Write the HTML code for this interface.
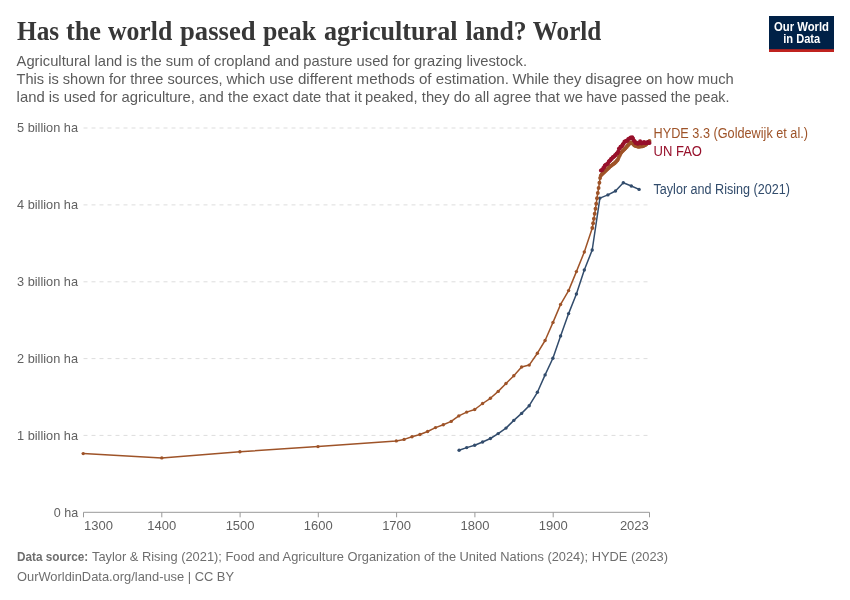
<!DOCTYPE html>
<html><head><meta charset="utf-8"><title>Has the world passed peak agricultural land?</title>
<style>
html,body{margin:0;padding:0;background:#fff;}
svg{display:block;will-change:transform;transform:translateZ(0);}
text{font-family:"Liberation Sans",sans-serif;}
.ax{font-size:13px;fill:#616161;}
.lb{font-size:13.8px;}
.ti{font-family:"Liberation Serif",serif;font-weight:bold;font-size:26.7px;fill:#373737;}
.su{font-size:14.6px;fill:#5b5b5b;}
.ft{font-size:13px;fill:#6e6e6e;}
.lg{font-size:12px;font-weight:bold;fill:#fff;}
</style></head><body>
<svg width="850" height="600" viewBox="0 0 850 600">
<rect width="850" height="600" fill="#fff"/>
<line x1="83.5" x2="649.5" y1="435.4" y2="435.4" stroke="#dddddd" stroke-width="1" stroke-dasharray="4,4"/>
<line x1="83.5" x2="649.5" y1="358.6" y2="358.6" stroke="#dddddd" stroke-width="1" stroke-dasharray="4,4"/>
<line x1="83.5" x2="649.5" y1="281.8" y2="281.8" stroke="#dddddd" stroke-width="1" stroke-dasharray="4,4"/>
<line x1="83.5" x2="649.5" y1="204.9" y2="204.9" stroke="#dddddd" stroke-width="1" stroke-dasharray="4,4"/>
<line x1="83.5" x2="649.5" y1="128.0" y2="128.0" stroke="#dddddd" stroke-width="1" stroke-dasharray="4,4"/>
<line x1="83.5" x2="649.5" y1="512.3" y2="512.3" stroke="#999999" stroke-width="1"/>
<line x1="83.5" x2="83.5" y1="512.3" y2="517.3" stroke="#999999" stroke-width="1"/>
<line x1="161.8" x2="161.8" y1="512.3" y2="517.3" stroke="#999999" stroke-width="1"/>
<line x1="240.1" x2="240.1" y1="512.3" y2="517.3" stroke="#999999" stroke-width="1"/>
<line x1="318.3" x2="318.3" y1="512.3" y2="517.3" stroke="#999999" stroke-width="1"/>
<line x1="396.6" x2="396.6" y1="512.3" y2="517.3" stroke="#999999" stroke-width="1"/>
<line x1="474.9" x2="474.9" y1="512.3" y2="517.3" stroke="#999999" stroke-width="1"/>
<line x1="553.2" x2="553.2" y1="512.3" y2="517.3" stroke="#999999" stroke-width="1"/>
<line x1="649.5" x2="649.5" y1="512.3" y2="517.3" stroke="#999999" stroke-width="1"/>
<text id="y0" x="53.8" y="516.7" class="ax" textLength="24.4" lengthAdjust="spacingAndGlyphs">0 ha</text>
<text id="y1" x="17" y="439.8" class="ax" textLength="61" lengthAdjust="spacingAndGlyphs">1 billion ha</text>
<text id="y2" x="17" y="363.0" class="ax" textLength="61" lengthAdjust="spacingAndGlyphs">2 billion ha</text>
<text id="y3" x="17" y="286.1" class="ax" textLength="61" lengthAdjust="spacingAndGlyphs">3 billion ha</text>
<text id="y4" x="17" y="209.3" class="ax" textLength="61" lengthAdjust="spacingAndGlyphs">4 billion ha</text>
<text id="y5" x="17" y="132.4" class="ax" textLength="61" lengthAdjust="spacingAndGlyphs">5 billion ha</text>
<text id="x1400" x="161.8" y="530.3" text-anchor="middle" class="ax">1400</text>
<text id="x1500" x="240.1" y="530.3" text-anchor="middle" class="ax">1500</text>
<text id="x1600" x="318.3" y="530.3" text-anchor="middle" class="ax">1600</text>
<text id="x1700" x="396.6" y="530.3" text-anchor="middle" class="ax">1700</text>
<text id="x1800" x="474.9" y="530.3" text-anchor="middle" class="ax">1800</text>
<text id="x1900" x="553.2" y="530.3" text-anchor="middle" class="ax">1900</text>
<text id="x1300" x="84" y="530.3" class="ax">1300</text>
<text id="x2023" x="648.8" y="530.3" text-anchor="end" class="ax">2023</text>
<path d="M459.1,450.2 L466.7,447.6 L474.7,445.3 L482.6,442.0 L490.4,438.5 L498.2,433.6 L506.0,428.1 L513.8,420.4 L521.6,413.4 L529.2,405.7 L537.4,392.3 L545.1,374.9 L552.9,358.3 L560.6,336.0 L568.6,313.6 L576.4,294.0 L584.3,270.0 L592.2,250.0 L599.9,198.1 L607.9,194.9 L615.5,191.0 L623.3,182.8 L631.3,186.0 L639.1,189.4" fill="none" stroke="#324C6C" stroke-width="1.5" stroke-linejoin="round" stroke-linecap="round"/>
<g fill="#324C6C"><circle cx="459.1" cy="450.2" r="1.7"/><circle cx="466.7" cy="447.6" r="1.7"/><circle cx="474.7" cy="445.3" r="1.7"/><circle cx="482.6" cy="442.0" r="1.7"/><circle cx="490.4" cy="438.5" r="1.7"/><circle cx="498.2" cy="433.6" r="1.7"/><circle cx="506.0" cy="428.1" r="1.7"/><circle cx="513.8" cy="420.4" r="1.7"/><circle cx="521.6" cy="413.4" r="1.7"/><circle cx="529.2" cy="405.7" r="1.7"/><circle cx="537.4" cy="392.3" r="1.7"/><circle cx="545.1" cy="374.9" r="1.7"/><circle cx="552.9" cy="358.3" r="1.7"/><circle cx="560.6" cy="336.0" r="1.7"/><circle cx="568.6" cy="313.6" r="1.7"/><circle cx="576.4" cy="294.0" r="1.7"/><circle cx="584.3" cy="270.0" r="1.7"/><circle cx="592.2" cy="250.0" r="1.7"/><circle cx="599.9" cy="198.1" r="1.7"/><circle cx="607.9" cy="194.9" r="1.7"/><circle cx="615.5" cy="191.0" r="1.7"/><circle cx="623.3" cy="182.8" r="1.7"/><circle cx="631.3" cy="186.0" r="1.7"/><circle cx="639.1" cy="189.4" r="1.7"/></g>

<path d="M83.2,453.6 L161.8,457.9 L239.9,451.8 L318.0,446.6 L396.3,440.9 L404.1,439.4 L412.0,436.7 L419.9,434.5 L427.6,431.5 L435.5,427.6 L443.3,424.7 L451.2,421.4 L458.8,415.9 L466.7,412.1 L474.7,409.5 L482.6,403.5 L490.4,398.3 L498.2,391.4 L506.0,383.5 L513.8,375.8 L521.6,367.0 L529.2,365.1 L537.4,353.2 L545.1,340.5 L553.0,322.4 L560.6,304.4 L568.6,290.6 L576.4,271.6 L584.3,252.0 L592.3,228.0 L593.1,223.3 L593.9,218.7 L594.7,213.8 L595.5,208.7 L596.2,203.7 L597.0,198.3 L597.8,193.0 L598.6,188.0 L599.4,182.8 L600.1,178.0 L600.9,175.4 L601.7,174.4 L602.5,173.7 L603.3,172.9 L604.1,172.2 L604.8,171.5 L605.6,170.7 L606.4,170.0 L607.2,169.2 L608.0,168.5 L608.8,167.7 L609.5,167.0 L610.3,166.3 L611.1,165.7 L611.9,165.1 L612.7,164.5 L613.5,163.9 L614.2,163.4 L615.0,162.7 L615.8,161.9 L616.6,161.0 L617.4,160.2 L618.2,158.8 L618.9,157.1 L619.7,155.4 L620.5,153.7 L621.3,152.4 L622.1,151.6 L622.8,150.8 L623.6,150.0 L624.4,149.2 L625.2,148.4 L626.0,147.5 L626.8,146.7 L627.5,145.8 L628.3,145.0 L629.1,144.1 L629.9,143.2 L630.7,142.4 L631.5,142.5 L632.2,143.2 L633.0,143.8 L633.8,144.8 L634.6,145.5 L635.4,145.8 L636.2,146.1 L636.9,146.3 L637.7,146.6 L638.5,146.7 L639.3,146.6 L640.1,146.5 L640.9,146.4 L641.6,146.4 L642.4,146.3 L643.2,146.1 L644.0,145.6 L644.8,145.2 L645.6,144.7 L646.3,144.2 L647.1,143.4 L647.9,142.6 L648.7,141.8 L649.5,141.0" fill="none" stroke="#9E5328" stroke-width="1.5" stroke-linejoin="round" stroke-linecap="round"/>
<g fill="#9E5328"><circle cx="83.2" cy="453.6" r="1.7"/><circle cx="161.8" cy="457.9" r="1.7"/><circle cx="239.9" cy="451.8" r="1.7"/><circle cx="318.0" cy="446.6" r="1.7"/><circle cx="396.3" cy="440.9" r="1.7"/><circle cx="404.1" cy="439.4" r="1.7"/><circle cx="412.0" cy="436.7" r="1.7"/><circle cx="419.9" cy="434.5" r="1.7"/><circle cx="427.6" cy="431.5" r="1.7"/><circle cx="435.5" cy="427.6" r="1.7"/><circle cx="443.3" cy="424.7" r="1.7"/><circle cx="451.2" cy="421.4" r="1.7"/><circle cx="458.8" cy="415.9" r="1.7"/><circle cx="466.7" cy="412.1" r="1.7"/><circle cx="474.7" cy="409.5" r="1.7"/><circle cx="482.6" cy="403.5" r="1.7"/><circle cx="490.4" cy="398.3" r="1.7"/><circle cx="498.2" cy="391.4" r="1.7"/><circle cx="506.0" cy="383.5" r="1.7"/><circle cx="513.8" cy="375.8" r="1.7"/><circle cx="521.6" cy="367.0" r="1.7"/><circle cx="529.2" cy="365.1" r="1.7"/><circle cx="537.4" cy="353.2" r="1.7"/><circle cx="545.1" cy="340.5" r="1.7"/><circle cx="553.0" cy="322.4" r="1.7"/><circle cx="560.6" cy="304.4" r="1.7"/><circle cx="568.6" cy="290.6" r="1.7"/><circle cx="576.4" cy="271.6" r="1.7"/><circle cx="584.3" cy="252.0" r="1.7"/><circle cx="592.3" cy="228.0" r="1.95"/><circle cx="593.1" cy="223.3" r="1.95"/><circle cx="593.9" cy="218.7" r="1.95"/><circle cx="594.7" cy="213.8" r="1.95"/><circle cx="595.5" cy="208.7" r="1.95"/><circle cx="596.2" cy="203.7" r="1.95"/><circle cx="597.0" cy="198.3" r="1.95"/><circle cx="597.8" cy="193.0" r="1.95"/><circle cx="598.6" cy="188.0" r="1.95"/><circle cx="599.4" cy="182.8" r="1.95"/><circle cx="600.1" cy="178.0" r="1.95"/><circle cx="600.9" cy="175.4" r="1.95"/><circle cx="601.7" cy="174.4" r="1.95"/><circle cx="602.5" cy="173.7" r="1.95"/><circle cx="603.3" cy="172.9" r="1.95"/><circle cx="604.1" cy="172.2" r="1.95"/><circle cx="604.8" cy="171.5" r="1.95"/><circle cx="605.6" cy="170.7" r="1.95"/><circle cx="606.4" cy="170.0" r="1.95"/><circle cx="607.2" cy="169.2" r="1.95"/><circle cx="608.0" cy="168.5" r="1.95"/><circle cx="608.8" cy="167.7" r="1.95"/><circle cx="609.5" cy="167.0" r="1.95"/><circle cx="610.3" cy="166.3" r="1.95"/><circle cx="611.1" cy="165.7" r="1.95"/><circle cx="611.9" cy="165.1" r="1.95"/><circle cx="612.7" cy="164.5" r="1.95"/><circle cx="613.5" cy="163.9" r="1.95"/><circle cx="614.2" cy="163.4" r="1.95"/><circle cx="615.0" cy="162.7" r="1.95"/><circle cx="615.8" cy="161.9" r="1.95"/><circle cx="616.6" cy="161.0" r="1.95"/><circle cx="617.4" cy="160.2" r="1.95"/><circle cx="618.2" cy="158.8" r="1.95"/><circle cx="618.9" cy="157.1" r="1.95"/><circle cx="619.7" cy="155.4" r="1.95"/><circle cx="620.5" cy="153.7" r="1.95"/><circle cx="621.3" cy="152.4" r="1.95"/><circle cx="622.1" cy="151.6" r="1.95"/><circle cx="622.8" cy="150.8" r="1.95"/><circle cx="623.6" cy="150.0" r="1.95"/><circle cx="624.4" cy="149.2" r="1.95"/><circle cx="625.2" cy="148.4" r="1.95"/><circle cx="626.0" cy="147.5" r="1.95"/><circle cx="626.8" cy="146.7" r="1.95"/><circle cx="627.5" cy="145.8" r="1.95"/><circle cx="628.3" cy="145.0" r="1.95"/><circle cx="629.1" cy="144.1" r="1.95"/><circle cx="629.9" cy="143.2" r="1.95"/><circle cx="630.7" cy="142.4" r="1.95"/><circle cx="631.5" cy="142.5" r="1.95"/><circle cx="632.2" cy="143.2" r="1.95"/><circle cx="633.0" cy="143.8" r="1.95"/><circle cx="633.8" cy="144.8" r="1.95"/><circle cx="634.6" cy="145.5" r="1.95"/><circle cx="635.4" cy="145.8" r="1.95"/><circle cx="636.2" cy="146.1" r="1.95"/><circle cx="636.9" cy="146.3" r="1.95"/><circle cx="637.7" cy="146.6" r="1.95"/><circle cx="638.5" cy="146.7" r="1.95"/><circle cx="639.3" cy="146.6" r="1.95"/><circle cx="640.1" cy="146.5" r="1.95"/><circle cx="640.9" cy="146.4" r="1.95"/><circle cx="641.6" cy="146.4" r="1.95"/><circle cx="642.4" cy="146.3" r="1.95"/><circle cx="643.2" cy="146.1" r="1.95"/><circle cx="644.0" cy="145.6" r="1.95"/><circle cx="644.8" cy="145.2" r="1.95"/><circle cx="645.6" cy="144.7" r="1.95"/><circle cx="646.3" cy="144.2" r="1.95"/><circle cx="647.1" cy="143.4" r="1.95"/><circle cx="647.9" cy="142.6" r="1.95"/><circle cx="648.7" cy="141.8" r="1.95"/><circle cx="649.5" cy="141.0" r="1.95"/></g>

<path d="M600.9,170.4 L601.7,170.2 L602.5,169.7 L603.3,168.0 L604.1,167.5 L604.8,165.6 L605.6,164.9 L606.4,164.5 L607.2,163.9 L608.0,163.5 L608.8,161.6 L609.5,161.0 L610.3,160.2 L611.1,158.8 L611.9,158.7 L612.7,157.2 L613.5,157.0 L614.2,156.6 L615.0,155.2 L615.8,155.0 L616.6,153.5 L617.4,153.2 L618.2,151.6 L618.9,148.7 L619.7,148.5 L620.5,146.8 L621.3,146.5 L622.1,145.9 L622.8,144.2 L623.6,143.7 L624.4,141.8 L625.2,141.3 L626.0,141.4 L626.8,140.4 L627.5,140.8 L628.3,139.1 L629.1,138.7 L629.9,138.3 L630.7,137.5 L631.5,138.1 L632.2,137.3 L633.0,138.6 L633.8,140.4 L634.6,141.2 L635.4,142.9 L636.2,142.4 L636.9,143.2 L637.7,143.8 L638.5,143.3 L639.3,143.3 L640.1,141.3 L640.9,142.5 L641.6,143.6 L642.4,142.7 L643.2,143.1 L644.0,142.1 L644.8,142.8 L645.6,143.2 L646.3,142.5 L647.1,142.9 L647.9,141.9 L648.7,142.6 L649.5,143.0" fill="none" stroke="#97102B" stroke-width="1.5" stroke-linejoin="round" stroke-linecap="round"/>
<g fill="#97102B"><circle cx="600.9" cy="170.4" r="2.0"/><circle cx="601.7" cy="170.2" r="2.0"/><circle cx="602.5" cy="169.7" r="2.0"/><circle cx="603.3" cy="168.0" r="2.0"/><circle cx="604.1" cy="167.5" r="2.0"/><circle cx="604.8" cy="165.6" r="2.0"/><circle cx="605.6" cy="164.9" r="2.0"/><circle cx="606.4" cy="164.5" r="2.0"/><circle cx="607.2" cy="163.9" r="2.0"/><circle cx="608.0" cy="163.5" r="2.0"/><circle cx="608.8" cy="161.6" r="2.0"/><circle cx="609.5" cy="161.0" r="2.0"/><circle cx="610.3" cy="160.2" r="2.0"/><circle cx="611.1" cy="158.8" r="2.0"/><circle cx="611.9" cy="158.7" r="2.0"/><circle cx="612.7" cy="157.2" r="2.0"/><circle cx="613.5" cy="157.0" r="2.0"/><circle cx="614.2" cy="156.6" r="2.0"/><circle cx="615.0" cy="155.2" r="2.0"/><circle cx="615.8" cy="155.0" r="2.0"/><circle cx="616.6" cy="153.5" r="2.0"/><circle cx="617.4" cy="153.2" r="2.0"/><circle cx="618.2" cy="151.6" r="2.0"/><circle cx="618.9" cy="148.7" r="2.0"/><circle cx="619.7" cy="148.5" r="2.0"/><circle cx="620.5" cy="146.8" r="2.0"/><circle cx="621.3" cy="146.5" r="2.0"/><circle cx="622.1" cy="145.9" r="2.0"/><circle cx="622.8" cy="144.2" r="2.0"/><circle cx="623.6" cy="143.7" r="2.0"/><circle cx="624.4" cy="141.8" r="2.0"/><circle cx="625.2" cy="141.3" r="2.0"/><circle cx="626.0" cy="141.4" r="2.0"/><circle cx="626.8" cy="140.4" r="2.0"/><circle cx="627.5" cy="140.8" r="2.0"/><circle cx="628.3" cy="139.1" r="2.0"/><circle cx="629.1" cy="138.7" r="2.0"/><circle cx="629.9" cy="138.3" r="2.0"/><circle cx="630.7" cy="137.5" r="2.0"/><circle cx="631.5" cy="138.1" r="2.0"/><circle cx="632.2" cy="137.3" r="2.0"/><circle cx="633.0" cy="138.6" r="2.0"/><circle cx="633.8" cy="140.4" r="2.0"/><circle cx="634.6" cy="141.2" r="2.0"/><circle cx="635.4" cy="142.9" r="2.0"/><circle cx="636.2" cy="142.4" r="2.0"/><circle cx="636.9" cy="143.2" r="2.0"/><circle cx="637.7" cy="143.8" r="2.0"/><circle cx="638.5" cy="143.3" r="2.0"/><circle cx="639.3" cy="143.3" r="2.0"/><circle cx="640.1" cy="141.3" r="2.0"/><circle cx="640.9" cy="142.5" r="2.0"/><circle cx="641.6" cy="143.6" r="2.0"/><circle cx="642.4" cy="142.7" r="2.0"/><circle cx="643.2" cy="143.1" r="2.0"/><circle cx="644.0" cy="142.1" r="2.0"/><circle cx="644.8" cy="142.8" r="2.0"/><circle cx="645.6" cy="143.2" r="2.0"/><circle cx="646.3" cy="142.5" r="2.0"/><circle cx="647.1" cy="142.9" r="2.0"/><circle cx="647.9" cy="141.9" r="2.0"/><circle cx="648.7" cy="142.6" r="2.0"/><circle cx="649.5" cy="143.0" r="2.0"/></g>

<text id="l1" x="653.5" y="137.9" class="lb" fill="#9E5328" textLength="154.5" lengthAdjust="spacingAndGlyphs">HYDE 3.3 (Goldewijk et al.)</text>
<text id="l2" x="653.5" y="156.0" class="lb" fill="#97102B" textLength="48.5" lengthAdjust="spacingAndGlyphs">UN FAO</text>
<text id="l3" x="653.5" y="194.3" class="lb" fill="#324C6C" textLength="136.5" lengthAdjust="spacingAndGlyphs">Taylor and Rising (2021)</text>
<text id="t0" x="17.0" y="39.7" class="ti" textLength="42.1" lengthAdjust="spacingAndGlyphs">Has</text>
<text id="t1" x="65.9" y="39.7" class="ti" textLength="35.2" lengthAdjust="spacingAndGlyphs">the</text>
<text id="t2" x="107.9" y="39.7" class="ti" textLength="64.3" lengthAdjust="spacingAndGlyphs">world</text>
<text id="t3" x="180.0" y="39.7" class="ti" textLength="75.6" lengthAdjust="spacingAndGlyphs">passed</text>
<text id="t4" x="263.0" y="39.7" class="ti" textLength="53.1" lengthAdjust="spacingAndGlyphs">peak</text>
<text id="t5" x="324.0" y="39.7" class="ti" textLength="133.5" lengthAdjust="spacingAndGlyphs">agricultural</text>
<text id="t6" x="465.4" y="39.7" class="ti" textLength="61.3" lengthAdjust="spacingAndGlyphs">land?</text>
<text id="t7" x="532.8" y="39.7" class="ti" textLength="68.5" lengthAdjust="spacingAndGlyphs">World</text>
<text id="s1" x="16.6" y="66.2" class="su" textLength="510.4" lengthAdjust="spacingAndGlyphs">Agricultural land is the sum of cropland and pasture used for grazing livestock.</text>
<text id="s2_0" x="16.6" y="84.1" class="su" textLength="206.0" lengthAdjust="spacingAndGlyphs">This is shown for three sources,</text>
<text id="s2_1" x="226.4" y="84.1" class="su" textLength="282.6" lengthAdjust="spacingAndGlyphs">which use different methods of estimation.</text>
<text id="s2_2" x="512.4" y="84.1" class="su" textLength="221.4" lengthAdjust="spacingAndGlyphs">While they disagree on how much</text>
<text id="s3_0" x="16.6" y="102.0" class="su" textLength="345.2" lengthAdjust="spacingAndGlyphs">land is used for agriculture, and the exact date that it</text>
<text id="s3_1" x="365.0" y="102.0" class="su" textLength="218.0" lengthAdjust="spacingAndGlyphs">peaked, they do all agree that we</text>
<text id="s3_2" x="586.2" y="102.0" class="su" textLength="143.2" lengthAdjust="spacingAndGlyphs">have passed the peak.</text>
<text id="f1a" x="17" y="560.5" class="ft" font-weight="bold" textLength="71.2" lengthAdjust="spacingAndGlyphs">Data source:</text>
<text id="f1" x="92" y="560.5" class="ft" textLength="576" lengthAdjust="spacingAndGlyphs">Taylor &amp; Rising (2021); Food and Agriculture Organization of the United Nations (2024); HYDE (2023)</text>
<text id="f2" x="17" y="580.6" class="ft" textLength="217" lengthAdjust="spacingAndGlyphs">OurWorldinData.org/land-use | CC BY</text>
<rect x="769" y="16" width="65" height="36" fill="#002147"/>
<rect x="769" y="49.2" width="65" height="2.8" fill="#C0231F"/>
<text id="lg1" x="801.5" y="30.6" class="lg" text-anchor="middle" textLength="55" lengthAdjust="spacingAndGlyphs">Our World</text>
<text id="lg2" x="801.7" y="42.6" class="lg" text-anchor="middle" textLength="37" lengthAdjust="spacingAndGlyphs">in Data</text>
</svg>
</body></html>
